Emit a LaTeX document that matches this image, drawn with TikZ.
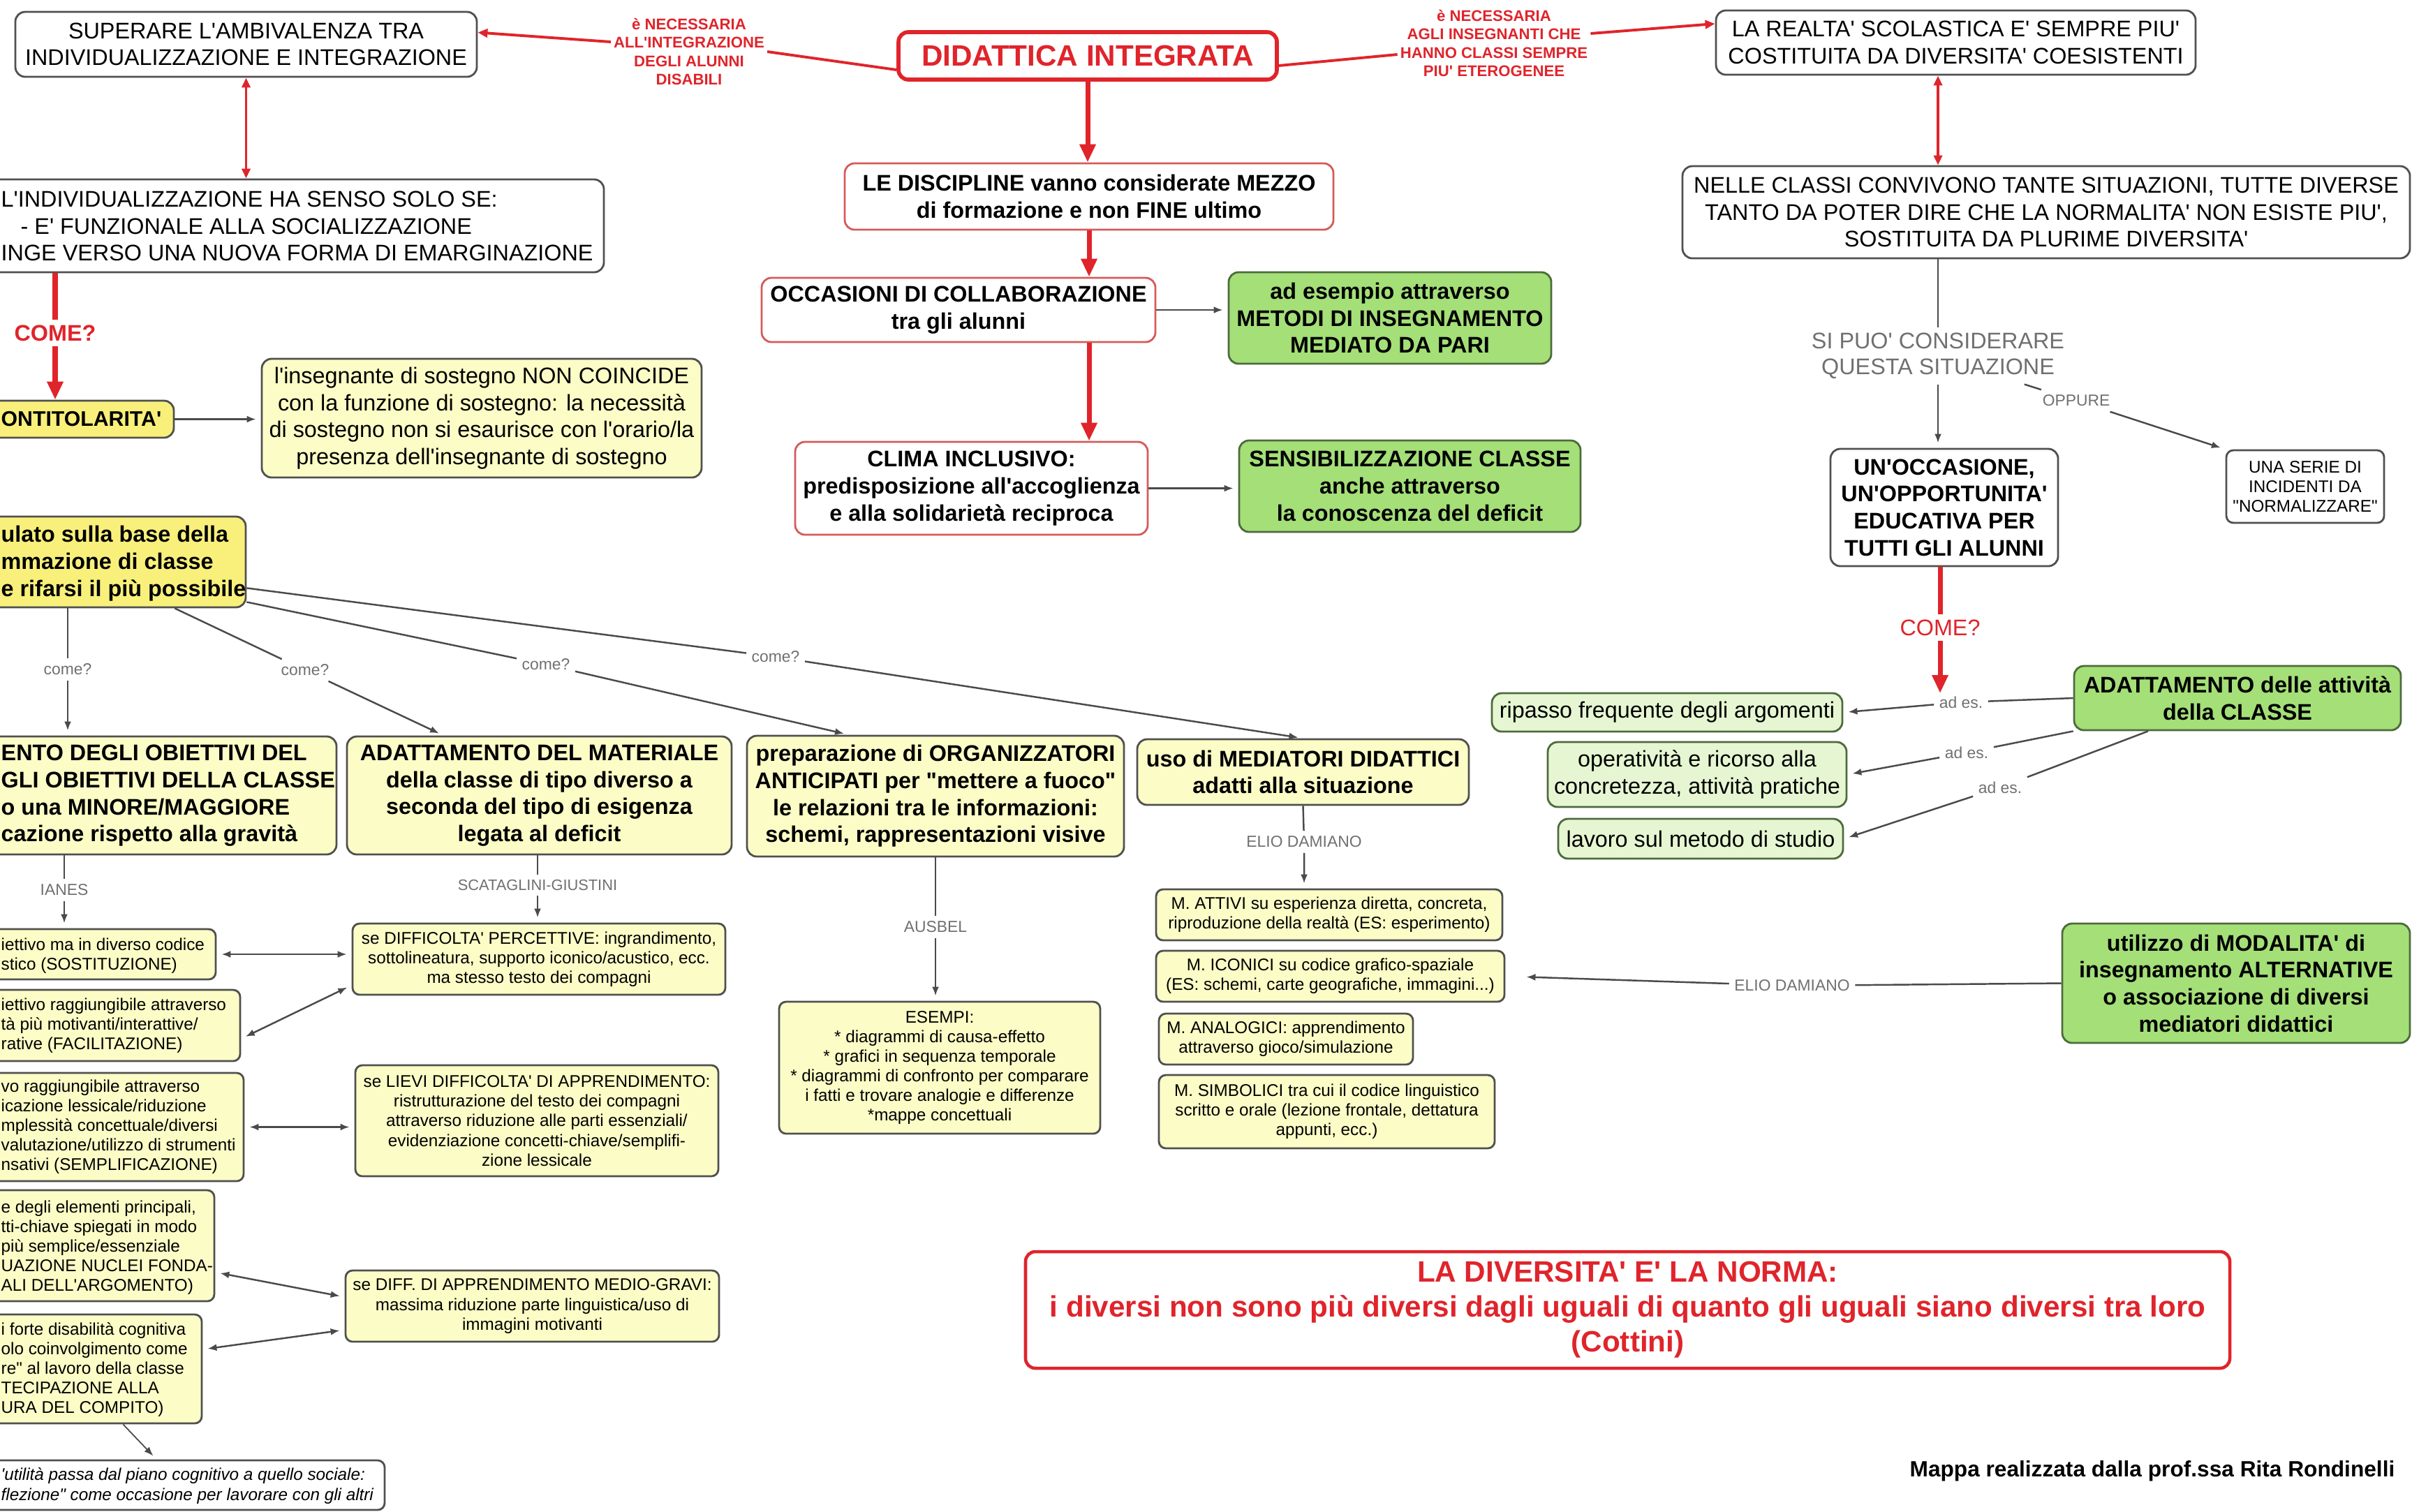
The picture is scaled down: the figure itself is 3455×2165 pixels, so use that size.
\documentclass[tikz,border=0pt]{standalone}
\usepackage{fontspec}
\setmainfont{Liberation Sans}[Ligatures=TeXOff]
\usetikzlibrary{arrows.meta,calc}
\definecolor{redc}{HTML}{E0242B}
\definecolor{rborder}{HTML}{D65A5A}
\definecolor{gborder}{HTML}{505050}
\definecolor{gline}{HTML}{4A4A4A}
\definecolor{glabel}{HTML}{707070}
\definecolor{ypale}{HTML}{FCFCC6}
\definecolor{ybright}{HTML}{F8F07A}
\definecolor{gfill}{HTML}{A4DF78}
\definecolor{lgfill}{HTML}{E6F6D2}
\definecolor{gdark}{HTML}{4D6B3C}
\newcommand\FsBig{\fontsize{9.2}{11}\selectfont}
\newcommand\FsBigB{\fontsize{9.2}{11}\selectfont\bfseries}
\newcommand\FsSmall{\fontsize{6.9}{8}\selectfont}
\newcommand\FsLab{\fontsize{6.5}{7.5}\selectfont}
\newcommand\FsRed{\fontsize{6.3}{7.5}\selectfont\bfseries}
\newcommand\FsTitle{\fontsize{12}{14.2}\selectfont\bfseries}
\tikzset{
  wh/.style 2 args={minimum width=#1*0.01cm, minimum height=#2*0.01cm},
  box/.style={draw=gborder, line width=0.8pt, rounded corners=0.14cm, fill=white, align=center, inner sep=0pt, font=\FsBig},
  rbox/.style={box, draw=rborder},
  gbox/.style={box, fill=gfill, draw=gdark, font=\FsBigB},
  lgbox/.style={box, fill=lgfill, draw=gdark},
  sbox/.style={box, font=\FsSmall, rounded corners=0.1cm},
  cuttext/.style={anchor=west, align=left, inner sep=0pt},
  glab/.style={text=glabel, font=\FsLab, inner sep=2pt, align=center},
  slab/.style={text=glabel, font=\fontsize{9.2}{10.5}\selectfont, align=center, inner sep=2pt},
  redlab/.style={text=redc, font=\FsRed, align=center, inner sep=1pt},
  rlab/.style={text=redc, font=\FsBigB, inner sep=2pt},
  rlabn/.style={text=redc, font=\FsBig, inner sep=2pt},
  conn/.style={draw=gline, line width=0.7pt, shorten >=2pt, -{Latex[length=0.13cm,width=0.1cm]}},
  connl/.style={draw=gline, line width=0.7pt},
  dconn/.style={draw=gline, line width=0.7pt, shorten >=2pt, shorten <=2pt, {Latex[length=0.13cm,width=0.1cm]}-{Latex[length=0.13cm,width=0.1cm]}},
  rthick/.style={draw=redc, line width=2pt, -{Triangle[length=0.26cm,width=0.22cm]}},
  rthin/.style={draw=redc, line width=1.1pt},
  rthinarr/.style={draw=redc, line width=1.1pt, -{Triangle[length=0.14cm,width=0.12cm]}},
  rdouble/.style={draw=redc, line width=1.1pt, {Triangle[length=0.14cm,width=0.12cm]}-{Triangle[length=0.14cm,width=0.12cm]}}
}
\begin{document}
\begin{tikzpicture}[x=0.01cm,y=-0.01cm]
\useasboundingbox (0,0) rectangle (3455,2165);
\fill[white] (0,0) rectangle (3455,2165);
\clip (0,0) rectangle (3455,2165);

% ---------- top left
\node[box, wh={661}{93}] (super) at (352.5,63.5) {SUPERARE L'AMBIVALENZA TRA\\INDIVIDUALIZZAZIONE E INTEGRAZIONE};
\node[box, wh={1026}{133}] (indiv) at (352,323.5) {};
\node[cuttext, font=\FsBig] (indivT) at (1,324) {L'INDIVIDUALIZZAZIONE HA SENSO SOLO SE:\\\hspace*{0.28cm}- E' FUNZIONALE ALLA SOCIALIZZAZIONE\\INGE VERSO UNA NUOVA FORMA DI EMARGINAZIONE};
\node[rlab] (comeL) at (79,477) {COME?};
\node[box, fill=ybright, wh={349}{53}] (conti) at (74.5,600.5) {};
\node[cuttext, font=\fontsize{8.6}{10}\selectfont\bfseries] (contiT) at (1,600.5) {ONTITOLARITA'};
\node[box, fill=ypale, wh={630}{170}] (insegn) at (690,599) {l'insegnante di sostegno NON COINCIDE\\con la funzione di sostegno: la necessità\\di sostegno non si esaurisce con l'orario/la\\presenza dell'insegnante di sostegno};

% ---------- centre
\node[box, draw=redc, line width=1.6pt, wh={542}{68}, font=\FsTitle, text=redc] (didattica) at (1558,80) {DIDATTICA INTEGRATA};
\node[redlab] (lblL) at (987,74) {è NECESSARIA\\ALL'INTEGRAZIONE\\DEGLI ALUNNI\\DISABILI};
\node[redlab] (lblR) at (2140,62) {è NECESSARIA\\AGLI INSEGNANTI CHE\\HANNO CLASSI SEMPRE\\PIU' ETEROGENEE};
\node[rbox, font=\FsBigB, wh={700}{95}] (discipline) at (1560,281.5) {LE DISCIPLINE vanno considerate MEZZO\\di formazione e non FINE ultimo};
\node[rbox, font=\FsBigB, wh={564}{92}] (occasioni) at (1373,444) {OCCASIONI DI COLLABORAZIONE\\tra gli alunni};
\node[gbox, wh={462}{131}] (metodi) at (1991,455.5) {ad esempio attraverso\\METODI DI INSEGNAMENTO\\MEDIATO DA PARI};
\node[rbox, font=\FsBigB, wh={505}{133}] (clima) at (1391.5,699.5) {CLIMA INCLUSIVO:\\predisposizione all'accoglienza\\e alla solidarietà reciproca};
\node[gbox, wh={489}{131}] (sensib) at (2019.5,696.5) {SENSIBILIZZAZIONE CLASSE\\anche attraverso\\la conoscenza del deficit};

% ---------- right
\node[box, wh={687}{92}] (realta) at (2801.5,61) {LA REALTA' SCOLASTICA E' SEMPRE PIU'\\COSTITUITA DA DIVERSITA' COESISTENTI};
\node[box, wh={1042}{132}] (nelle) at (2931,304) {NELLE CLASSI CONVIVONO TANTE SITUAZIONI, TUTTE DIVERSE\\TANTO DA POTER DIRE CHE LA NORMALITA' NON ESISTE PIU',\\SOSTITUITA DA PLURIME DIVERSITA'};
\node[slab] (sipuo) at (2776,510) {SI PUO' CONSIDERARE\\QUESTA SITUAZIONE};
\node[glab] (oppure) at (2974,574) {OPPURE};
\node[box, font=\FsBigB, wh={326}{168}] (occas2) at (2785,727) {UN'OCCASIONE,\\UN'OPPORTUNITA'\\EDUCATIVA PER\\TUTTI GLI ALUNNI};
\node[sbox, wh={226}{104}] (serie) at (3302,697) {UNA SERIE DI\\INCIDENTI DA\\"NORMALIZZARE"};
\node[rlabn] (come2) at (2779,899) {COME?};
\coordinate (come2end) at (2779,993);
\node[gbox, wh={468}{92}] (adatt) at (3205,1000) {ADATTAMENTO delle attività\\della CLASSE};
\node[lgbox, wh={502}{55}] (ripasso) at (2388,1020.5) {ripasso frequente degli argomenti};
\node[lgbox, wh={428}{93}] (operat) at (2431,1109.5) {operatività e ricorso alla\\concretezza, attività pratiche};
\node[lgbox, wh={408}{57}] (lavoro) at (2436,1201.5) {lavoro sul metodo di studio};
\node[glab] (ades1) at (2809,1006) {ad es.};
\node[glab] (ades2) at (2817,1078) {ad es.};
\node[glab] (ades3) at (2865,1128) {ad es.};
\node[gbox, wh={498}{171}] (modal) at (3203,1408.5) {utilizzo di MODALITA' di\\insegnamento ALTERNATIVE\\o associazione di diversi\\mediatori didattici};
\node[glab] (elio2) at (2567,1412) {ELIO DAMIANO};

% ---------- middle band
\node[box, fill=ybright, wh={452}{130}] (ulato) at (126,805) {};
\node[cuttext, font=\FsBigB] (ulatoT) at (1,807) {ulato sulla base della\\mmazione di classe\\e rifarsi il più possibile};
\node[box, fill=ypale, wh={582}{169}] (obiett) at (191,1139.5) {};
\node[cuttext, font=\FsBigB] (obiettT) at (1,1140) {ENTO DEGLI OBIETTIVI DEL\\GLI OBIETTIVI DELLA CLASSE\\o una MINORE/MAGGIORE\\cazione rispetto alla gravità};
\node[box, fill=ypale, font=\FsBigB, wh={551}{169}] (materiale) at (772.5,1139.5) {ADATTAMENTO DEL MATERIALE\\della classe di tipo diverso a\\seconda del tipo di esigenza\\legata al deficit};
\node[box, fill=ypale, font=\FsBigB, wh={540}{173}] (organ) at (1340,1140.5) {preparazione di ORGANIZZATORI\\ANTICIPATI per "mettere a fuoco"\\le relazioni tra le informazioni:\\schemi, rappresentazioni visive};
\node[box, fill=ypale, font=\FsBigB, wh={475}{94}] (mediat) at (1866.5,1106) {uso di MEDIATORI DIDATTICI\\adatti alla situazione};
\node[glab] (come1) at (97,959) {come?};
\node[glab] (come2l) at (437,960) {come?};
\node[glab] (come3) at (782,952) {come?};
\node[glab] (come4) at (1111,941) {come?};
\node[glab] (elio1) at (1868,1206) {ELIO DAMIANO};
\node[glab] (ausbel) at (1340,1328) {AUSBEL};
\node[glab] (ianes) at (92,1275) {IANES};
\node[glab, font=\fontsize{6.2}{7}\selectfont] (scat) at (770,1268) {SCATAGLINI-GIUSTINI};

\node[sbox, fill=ypale, wh={460}{189}] (esempi) at (1346,1529.5) {ESEMPI:\\* diagrammi di causa-effetto\\* grafici in sequenza temporale\\* diagrammi di confronto per comparare\\i fatti e trovare analogie e differenze\\*mappe concettuali};
\node[sbox, fill=ypale, wh={496}{73}] (attivi) at (1904,1310.5) {M. ATTIVI su esperienza diretta, concreta,\\riproduzione della realtà (ES: esperimento)};
\node[sbox, fill=ypale, wh={499}{73}] (iconici) at (1905.5,1398.5) {M. ICONICI su codice grafico-spaziale\\(ES: schemi, carte geografiche, immagini...)};
\node[sbox, fill=ypale, wh={364}{73}] (analog) at (1842,1488.5) {M. ANALOGICI: apprendimento\\attraverso gioco/simulazione};
\node[sbox, fill=ypale, wh={481}{105}] (simbol) at (1900.5,1592.5) {M. SIMBOLICI tra cui il codice linguistico\\scritto e orale (lezione frontale, dettatura\\appunti, ecc.)};

% ---------- left lower
\node[sbox, fill=ypale, wh={409}{72}] (ian1) at (104.5,1367) {};
\node[cuttext, font=\FsSmall] (ian1T) at (1,1369) {iettivo ma in diverso codice\\stico (SOSTITUZIONE)};
\node[sbox, fill=ypale, wh={444}{102}] (ian2) at (122,1469) {};
\node[cuttext, font=\FsSmall] (ian2T) at (1,1469) {iettivo raggiungibile attraverso\\tà più motivanti/interattive/\\rative (FACILITAZIONE)};
\node[sbox, fill=ypale, wh={449}{155}] (ian3) at (124.5,1614.5) {};
\node[cuttext, font=\FsSmall] (ian3T) at (1,1614) {vo raggiungibile attraverso\\icazione lessicale/riduzione\\mplessità concettuale/diversi\\valutazione/utilizzo di strumenti\\nsativi (SEMPLIFICAZIONE)};
\node[sbox, fill=ypale, wh={407}{159}] (ian4) at (103.5,1784.5) {};
\node[cuttext, font=\FsSmall] (ian4T) at (1,1787) {e degli elementi principali,\\tti-chiave spiegati in modo\\più semplice/essenziale\\UAZIONE NUCLEI FONDA-\\ALI DELL'ARGOMENTO)};
\node[sbox, fill=ypale, wh={389}{156}] (ian5) at (94.5,1961) {};
\node[cuttext, font=\FsSmall] (ian5T) at (1,1962) {i forte disabilità cognitiva\\olo coinvolgimento come\\re" al lavoro della classe\\TECIPAZIONE ALLA\\URA DEL COMPITO)};
\node[sbox, wh={651}{71}] (italic) at (225.5,2127.5) {};
\node[cuttext, font=\FsSmall\itshape] (italicT) at (1,2128.5) {'utilità passa dal piano cognitivo a quello sociale:\\flezione" come occasione per lavorare con gli altri};
\node[sbox, fill=ypale, wh={534}{102}] (sc1) at (772,1374) {se DIFFICOLTA' PERCETTIVE: ingrandimento,\\sottolineatura, supporto iconico/acustico, ecc.\\ma stesso testo dei compagni};
\node[sbox, fill=ypale, wh={520}{159}] (sc2) at (769,1605.5) {se LIEVI DIFFICOLTA' DI APPRENDIMENTO:\\ristrutturazione del testo dei compagni\\attraverso riduzione alle parti essenziali/\\evidenziazione concetti-chiave/semplifi-\\zione lessicale};
\node[sbox, fill=ypale, wh={535}{102}] (sc3) at (762.5,1871) {se DIFF. DI APPRENDIMENTO MEDIO-GRAVI:\\massima riduzione parte linguistica/uso di\\immagini motivanti};

% ---------- bottom
\node[box, draw=redc, line width=1.3pt, wh={1725}{167}, font=\FsTitle, text=redc] (diversita) at (2331.5,1876.5) {LA DIVERSITA' E' LA NORMA:\\i diversi non sono più diversi dagli uguali di quanto gli uguali siano diversi tra loro\\(Cottini)};
\node[anchor=east, inner sep=0pt, font=\fontsize{9}{11}\selectfont\bfseries] (mappa) at (3431,2107) {Mappa realizzata dalla prof.ssa Rita Rondinelli};

% ---------- connectors: red
\draw[rthick] (didattica.south) -- (didattica.south |- discipline.north);
\draw[rthick] (discipline.south) -- (discipline.south |- occasioni.north);
\draw[rthick] (occasioni.south -| discipline.south) -- (clima.north -| discipline.south);
\draw[rthick] (indiv.south -| comeL) -- (comeL) -- (comeL |- conti.north);
\draw[rthick] (occas2.south -| come2) -- (come2) -- (come2end);
\draw[rthin] (lblL.east) -- ([yshift=-0.2cm]didattica.west);
\draw[rthinarr] ([yshift=0.14cm]lblL.west) -- ([yshift=0.17cm]super.east);
\draw[rthin] ([yshift=-0.14cm]didattica.east) -- ([yshift=-0.16cm]lblR.west);
\draw[rthinarr] ([yshift=0.14cm]lblR.east) -- ([yshift=0.27cm]realta.west);
\draw[rdouble] (super.south) -- (super.south |- indiv.north);
\draw[rdouble] (realta.south -| sipuo) -- (nelle.north -| sipuo);

% ---------- connectors: grey
\draw[connl] (nelle.south -| sipuo) -- (sipuo);
\draw[conn] (sipuo) -- (sipuo.south |- occas2.north);
\draw[conn] ([xshift=-0.65cm]sipuo.south east) -- (oppure) -- (serie.north west);
\draw[conn] (adatt.west) -- (ades1) -- (ripasso.east);
\draw[conn] (adatt.south west) -- (ades2) -- (operat.east);
\draw[conn] ([xshift=-1.28cm]adatt.south) -- (ades3) -- (lavoro.east);
\draw[conn, shorten >=0.3cm] (modal.west) -- (elio2) -- (iconici.east);
\draw[conn] (mediat.south) -- (elio1) -- (elio1 |- attivi.north);
\draw[conn] (organ.south) -- (ausbel) -- (ausbel |- esempi.north);
\draw[conn] (ianes |- obiett.south) -- (ianes) -- (ianes |- ian1.north);
\draw[conn] (scat |- materiale.south) -- (scat) -- (scat |- sc1.north);
\draw[conn] (come1 |- ulato.south) -- (come1) -- (come1 |- obiett.north);
\draw[conn] ([xshift=-1.03cm]ulato.south east) -- (come2l) -- ([xshift=-1.37cm]materiale.north);
\draw[conn] ([yshift=0.09cm]ulato.south east) -- (come3) -- ([xshift=-1.24cm]organ.north);
\draw[conn] ([yshift=0.29cm]ulato.south east) -- (come4) -- (mediat.north);
\draw[conn] (conti.east) -- (conti.east -| insegn.west);
\draw[conn] (occasioni.east) -- (occasioni.east -| metodi.west);
\draw[conn] (clima.east) -- (clima.east -| sensib.west);
\draw[dconn] (ian1.east) -- (ian1.east -| sc1.west);
\draw[dconn] ([yshift=-0.19cm]ian2.east) -- ([yshift=0.15cm]sc1.south west);
\draw[dconn] (ian3.east) -- (ian3.east -| sc2.west);
\draw[dconn] ([yshift=-0.38cm]ian4.east) -- ([yshift=0.13cm]sc3.west);
\draw[dconn] ([yshift=0.28cm]ian5.east) -- ([yshift=-0.34cm]sc3.west);
\draw[conn, line width=0.5pt] ([xshift=-1.14cm]ian5.south east) -- ([xshift=-3.28cm]italic.north east);
\end{tikzpicture}
\end{document}
